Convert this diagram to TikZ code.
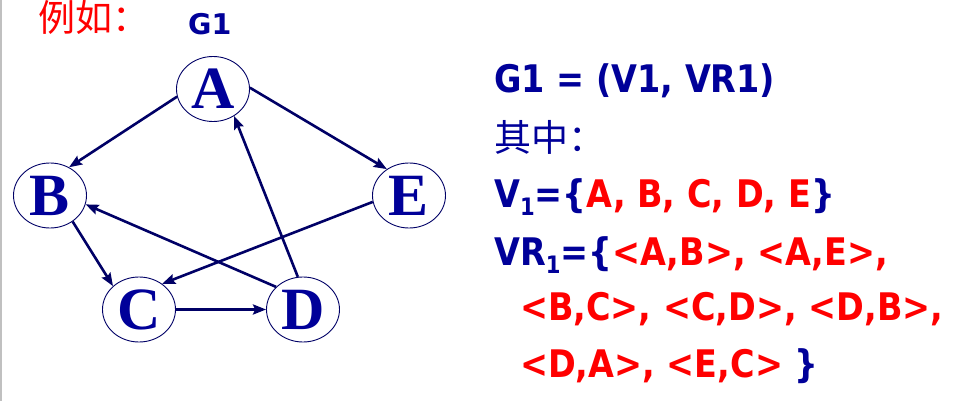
\documentclass[tikz,border=0pt]{standalone}
\usepackage{fontspec}
\usepackage{graphicx}
\usetikzlibrary{shapes.geometric,arrows.meta}
\newfontfamily\dvfont{DejaVu Sans}
\newfontfamily\cjkfont{Noto Sans CJK SC}
\newfontfamily\serfont{Liberation Serif}
\definecolor{navy}{RGB}{0,0,153}
\definecolor{edgecol}{RGB}{0,0,102}
\definecolor{redtxt}{RGB}{255,0,0}
\newcommand\rt[1]{\scalebox{0.88}[1]{#1}}
\newcommand\subone{\raisebox{-0.22em}{\fontsize{24}{24}\selectfont 1}}
\tikzset{
  vtx/.style={ellipse, draw=edgecol, line width=0.9pt, minimum width=73pt, minimum height=65pt, inner sep=0pt,
    text=navy, font=\serfont\bfseries\fontsize{60}{60}\selectfont},
  arc/.style={draw=edgecol, line width=2.6pt, -{Stealth[length=13pt,width=10pt,inset=2pt]}},
  rtxt/.style={anchor=base west, inner sep=0pt, text=navy, font=\dvfont\bfseries\fontsize{38}{38}\selectfont},
}
\begin{document}
\begin{tikzpicture}[x=1pt,y=-1pt]
\useasboundingbox (0,0) rectangle (955,401);
\draw[color={rgb,255:red,192;green,192;blue,192}, line width=1.5pt] (0.75,0) -- (0.75,401);
% nodes
\node[vtx] (A) at (213,89) {A};
\node[vtx] (B) at (50,195.5) {B};
\node[vtx] (C) at (139,309.5) {C};
\node[vtx] (D) at (303,309.5) {D};
\node[vtx] (E) at (409,195.5) {E};
% edges
\draw[arc] (A.192) -- (B.56);
\draw[arc] (A.2) -- (E.130);
\draw[arc] (B.-49) -- (C.138);
\draw[arc] (C.0) -- (D.180);
\draw[arc] (D.140) -- (B.-14);
\draw[arc] (D.99) -- (A.-52);
\draw[arc] (E.190) -- (C.48);
% titles
\node[anchor=base west, inner sep=0pt, text=redtxt, font=\cjkfont\fontsize{37}{37}\selectfont] (ex) at (38,32) {例如：};
\node[anchor=base west, inner sep=0pt, text=navy, font=\dvfont\bfseries\fontsize{28.5}{28.5}\selectfont] (g1) at (188,35) {G1};
% right text
\node[rtxt] (l1) at (494,93) {\rt{G1 = (V1, VR1)}};
\node[anchor=base west, inner sep=0pt, text=navy, font=\cjkfont\fontsize{37}{37}\selectfont] (l2) at (494,151) {其中：};
\node[rtxt] (l3) at (494,207) {\rt{V\subone=\{\textcolor{redtxt}{A, B, C, D, E}\}}};
\node[rtxt] (l4) at (494,265) {\rt{VR\subone=\{\textcolor{redtxt}{<A,B>, <A,E>,}}};
\node[rtxt] (l5) at (520,320) {\rt{\textcolor{redtxt}{<B,C>, <C,D>, <D,B>,}}};
\node[rtxt] (l6) at (520,377) {\rt{\textcolor{redtxt}{<D,A>, <E,C>} \}}};
\end{tikzpicture}
\end{document}
